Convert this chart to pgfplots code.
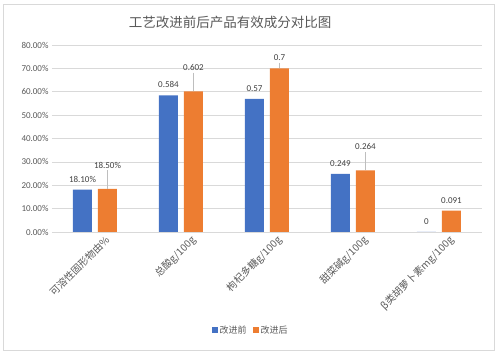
\documentclass[border=0pt]{standalone}
\usepackage{pgfplots}
\pgfplotsset{compat=1.18}
\usepackage{pgfplotstable}
\usepackage{fontspec}
\setmainfont{Carlito}
\newfontfamily\cjk{Noto Sans CJK SC}
\definecolor{cblue}{HTML}{4472C4}
\definecolor{corange}{HTML}{ED7D31}
\definecolor{txt}{HTML}{595959}
\definecolor{lbl}{HTML}{404040}
\definecolor{grd}{HTML}{D9D9D9}

\pgfplotstableread{
x y e sh lab
0 18.1 0 4 18.10\%
1 58.4 0 4 0.584
2 57.0 0 4 0.57
3 24.9 0 4 0.249
4 0.0 0 4 0
}\before
\pgfplotstableread{
x y e sh lab
0 18.5 8.0 17 18.50\%
1 60.2 8.0 17 0.602
2 70.0 2.5 4 0.7
3 26.4 7.8 17 0.264
4 9.1 0 4 0.091
}\after

\begin{document}
\begin{tikzpicture}
\useasboundingbox (-52pt,-126pt) rectangle (448pt,232pt);
\draw[grd, line width=0.8pt] (-49pt,-118pt) rectangle (442pt,228pt);
\node[font=\cjk\fontsize{13.5}{15}\selectfont, text=txt] at (178pt,210pt) {工艺改进前后产品有效成分对比图};
\begin{axis}[
  at={(0pt,0pt)}, anchor=south west,
  scale only axis, width=430pt, height=187pt,
  xmin=-0.5, xmax=4.5, ymin=0, ymax=80,
  ybar=6pt, bar width=19pt,
  axis line style={draw=none},
  major tick length=0pt,
  ytick={0,10,...,80},
  ymajorgrids, grid style={grd, line width=0.6pt},
  /pgf/number format/assume math mode=true,
  yticklabel={\pgfmathprintnumber[fixed,fixed zerofill,precision=2]{\tick}\%},
  yticklabel style={font=\fontsize{9}{10}\selectfont, text=txt},
  xtick={0,1,2,3,4},
  xticklabels={可溶性固形物由\%, 总酸g/100g, 枸杞多糖g/100g, 甜菜碱g/100g, β类胡萝卜素mg/100g},
  xticklabel style={font=\cjk\fontsize{10}{11}\selectfont, text=txt, rotate=45, anchor=north east, xshift=8pt, yshift=-5pt},
  legend style={at={(0.462,-0.524)}, anchor=center, draw=none, legend columns=2,
    font=\cjk\fontsize{9}{10}\selectfont, text=txt,
    /tikz/every even column/.append style={column sep=4pt}},
  legend image code/.code={\fill[#1] (0pt,-3pt) rectangle (6pt,3pt);},
  nodes near coords,
  point meta=explicit symbolic,
  visualization depends on={\thisrow{sh} \as \sh},
  every node near coord/.append style={font=\fontsize{9}{10}\selectfont, text=lbl, anchor=south, yshift=\sh pt},
  error bars/error bar style={grd!70!gray, line width=0.6pt},
]
\addplot[fill=cblue, draw=none] table[x=x, y=y, meta=lab] {\before};
\addplot[fill=corange, draw=none,
  error bars/.cd, y dir=plus, y explicit, error mark=none]
  table[x=x, y=y, y error=e, meta=lab] {\after};
\legend{改进前, 改进后}
\end{axis}
\end{tikzpicture}
\end{document}
